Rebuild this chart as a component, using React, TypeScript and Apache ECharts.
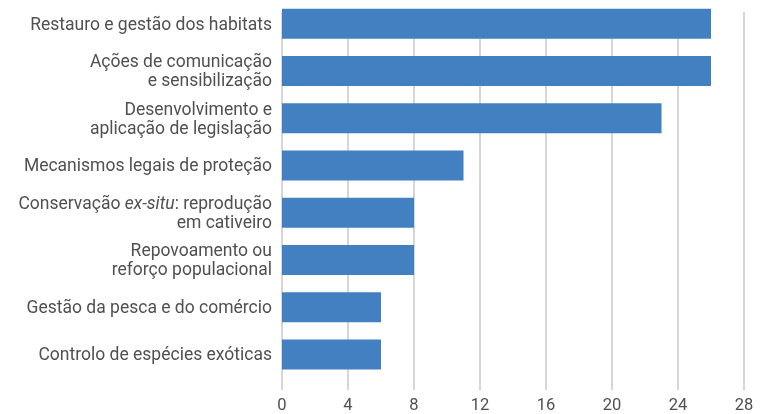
import React, { useEffect, useRef } from "react";
import * as echarts from "echarts";

const categories = [
  "Restauro e gestão dos habitats",
  "Ações de comunicação\ne sensibilização",
  "Desenvolvimento e\naplicação de legislação",
  "Mecanismos legais de proteção",
  "Conservação {i|ex-situ}: reprodução\nem cativeiro",
  "Repovoamento ou\nreforço populacional",
  "Gestão da pesca e do comércio",
  "Controlo de espécies exóticas",
];
const values = [26, 26, 23, 11, 8, 8, 6, 6];
const axisMin = 0;
const axisMax = 28;
const axisStep = 4;

const FONT = "Roboto";
const TEXT = "#505050";

export default function App() {
  const ref = useRef<HTMLDivElement>(null);
  useEffect(() => {
    if (!ref.current) return;
    const chart = echarts.init(ref.current, undefined, { renderer: "svg" });
    chart.setOption({
      animation: false,
      grid: [
        { left: 282, right: 23, top: 12, bottom: 24, containLabel: false },
        { left: 282, right: 23, top: -1, height: 379, containLabel: false },
      ],
      xAxis: [
        {
          type: "value",
          gridIndex: 0,
          min: axisMin,
          max: axisMax,
          interval: axisStep,
          axisLine: { show: false },
          axisTick: { show: false },
          splitLine: { show: true, lineStyle: { color: "#c8c8c8", width: 1.5 } },
          axisLabel: { color: TEXT, fontFamily: FONT, fontSize: 16.5, margin: 6 },
        },
        {
          type: "value",
          gridIndex: 1,
          min: axisMin,
          max: axisMax,
          show: false,
        },
      ],
      yAxis: [
        {
          type: "category",
          gridIndex: 0,
          data: categories,
          show: false,
        },
        {
          type: "category",
          gridIndex: 1,
          data: categories,
          inverse: true,
          axisLine: { show: false },
          axisTick: { show: false },
          splitLine: { show: false },
          axisLabel: {
            color: TEXT,
            fontFamily: FONT,
            fontSize: 17.5,
            lineHeight: 19,
            margin: 10,
            align: "right",
            rich: {
              i: { fontStyle: "italic", color: TEXT, fontFamily: FONT, fontSize: 17.5, lineHeight: 19 },
            },
          },
        },
      ],
      series: [
        {
          type: "bar",
          xAxisIndex: 1,
          yAxisIndex: 1,
          data: values,
          barWidth: 30,
          itemStyle: { color: "#4380c1" },
        },
      ],
    });
    return () => chart.dispose();
  }, []);
  return (
    <div
      ref={ref}
      style={{ position: "fixed", left: 0, top: 0, width: 767, height: 414 }}
    />
  );
}
